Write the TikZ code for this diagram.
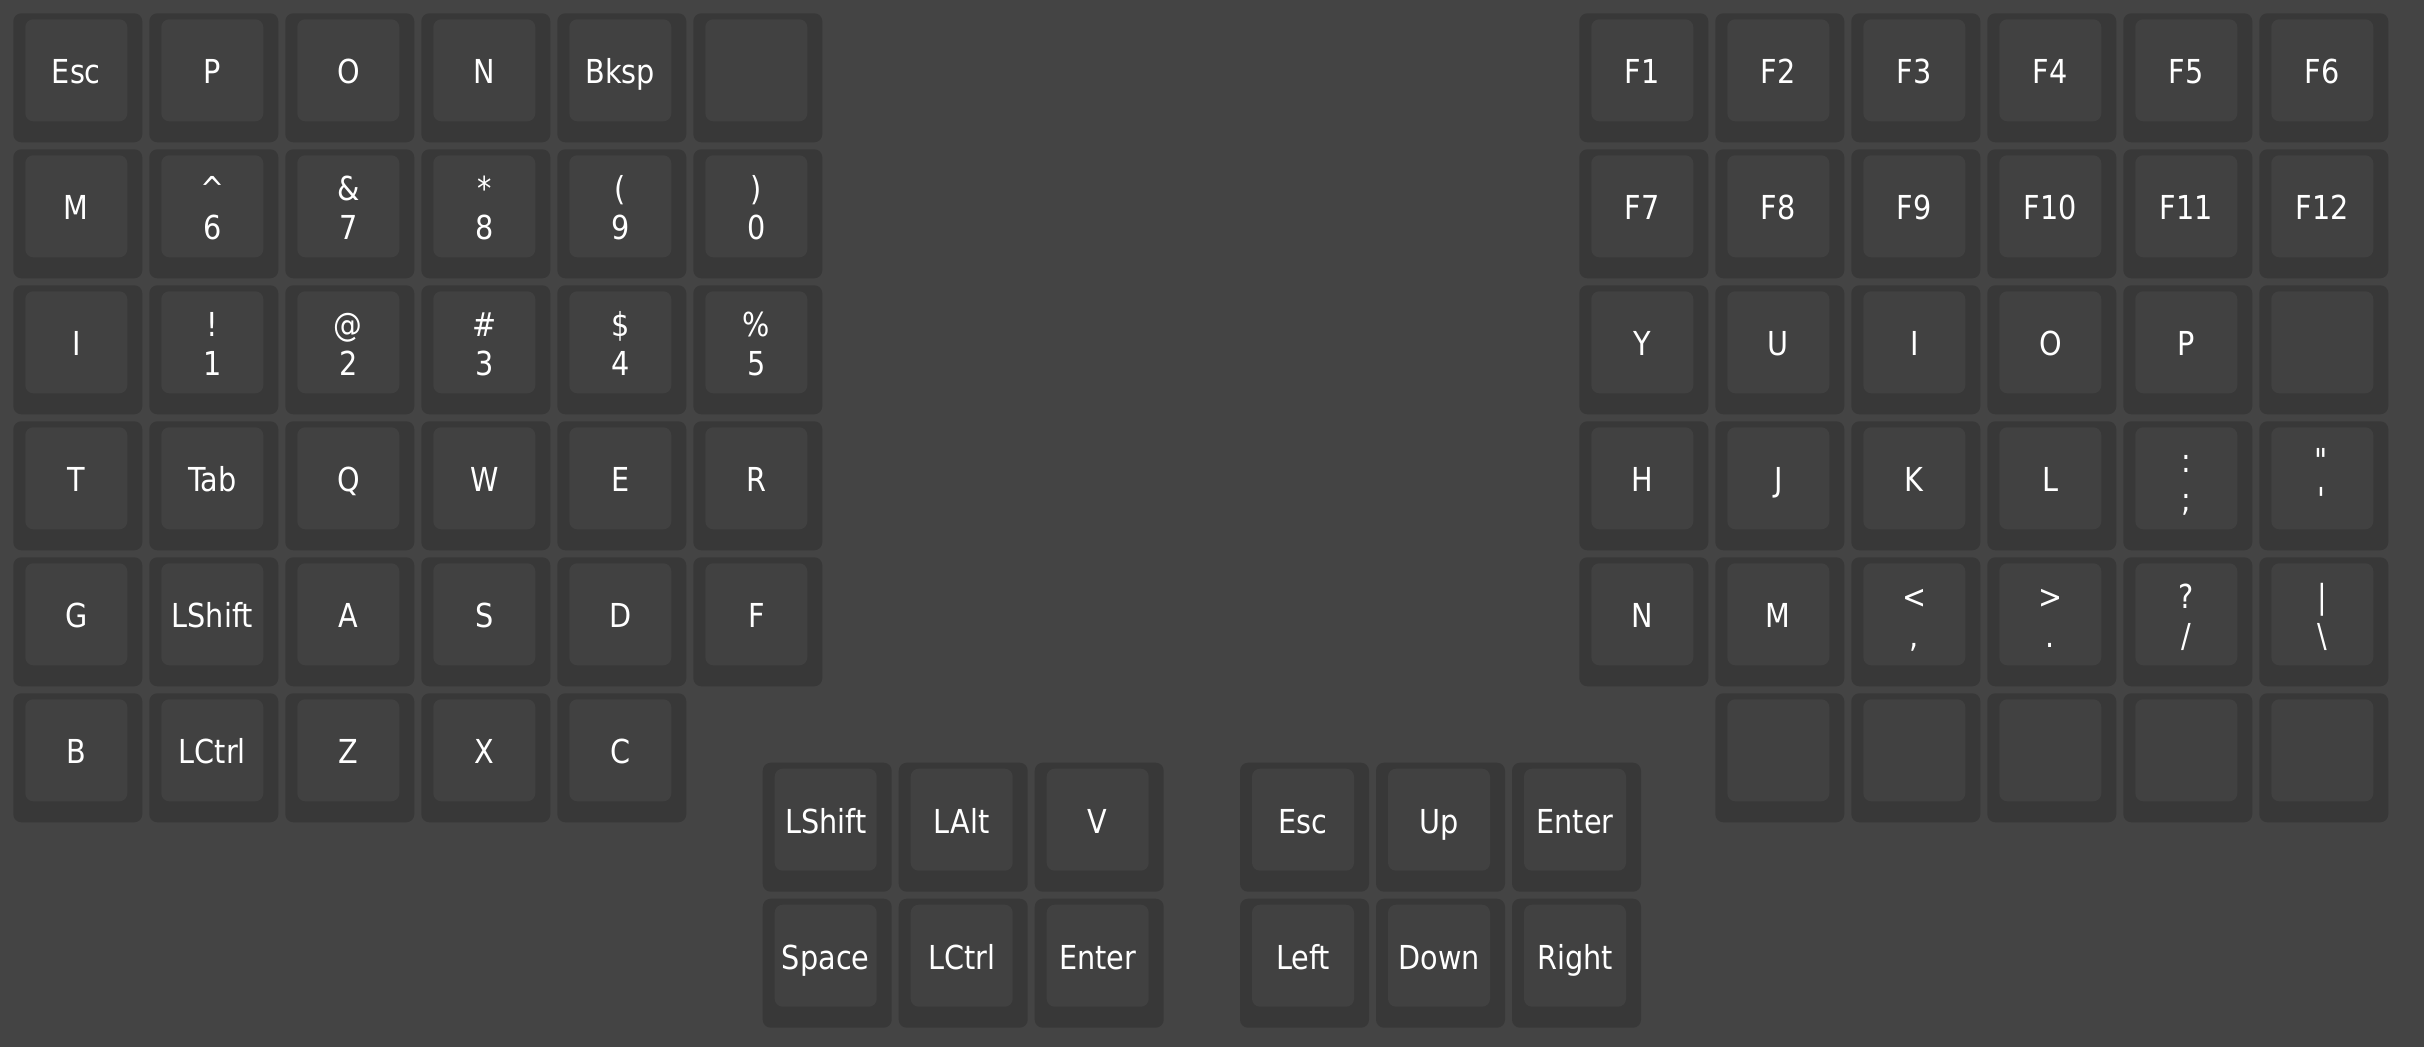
\documentclass[tikz,border=0pt]{standalone}
\usepackage{fontspec}
\setmainfont{DejaVu Sans}[FakeStretch=0.87]
\definecolor{bg}{RGB}{68,68,68}
\definecolor{keyout}{RGB}{56,56,56}
\definecolor{keycap}{RGB}{65,65,65}
\tikzset{
  keybase/.style={fill=keyout, rounded corners=4pt, minimum width=64.5pt, minimum height=64.5pt, inner sep=0pt, draw=none},
  keytop/.style={fill=keycap, rounded corners=4pt, minimum width=51pt, minimum height=51pt, inner sep=0pt, draw=none},
  legend/.style={text=white, font=\fontsize{16.5}{18}\selectfont, inner sep=0pt, anchor=base},
}
% #1 name, #2 left x, #3 top y (px), #4 label
\newcommand\kbkey[4]{%
  \node[keybase] (#1) at (#2+64.5,#3+64.5) {};
  \node[keytop] (#1t) at (#2+63,#3+57) {};
  \node[legend] (#1l) at (#2+63,#3+70.5) {#4};
}
% two-line legend: #4 top, #5 bottom
\newcommand\kbkeyii[5]{%
  \node[keybase] (#1) at (#2+64.5,#3+64.5) {};
  \node[keytop] (#1t) at (#2+63,#3+57) {};
  \node[legend] (#1a) at (#2+63,#3+51) {#4};
  \node[legend] (#1b) at (#2+63,#3+90.5) {#5};
}
\begin{document}
\begin{tikzpicture}[x=0.5pt,y=-0.5pt]
\path[use as bounding box, fill=bg] (0,0) rectangle (2424,1047);
% ---------- left half ----------
\def\ca{13.3}\def\cb{149.3}\def\cc{285.3}\def\cd{421.3}\def\ce{557.3}\def\cf{693.3}
\def\ra{13.3}\def\rb{149.3}\def\rc{285.3}\def\rd{421.3}\def\re{557.3}\def\rf{693.3}
\kbkey{L00}{\ca}{\ra}{Esc}
\kbkey{L01}{\cb}{\ra}{P}
\kbkey{L02}{\cc}{\ra}{O}
\kbkey{L03}{\cd}{\ra}{N}
\kbkey{L04}{\ce}{\ra}{Bksp}
\kbkey{L05}{\cf}{\ra}{}
\kbkey{L10}{\ca}{\rb}{M}
\kbkeyii{L11}{\cb}{\rb}{\textasciicircum}{6}
\kbkeyii{L12}{\cc}{\rb}{\&}{7}
\kbkeyii{L13}{\cd}{\rb}{*}{8}
\kbkeyii{L14}{\ce}{\rb}{(}{9}
\kbkeyii{L15}{\cf}{\rb}{)}{0}
\kbkey{L20}{\ca}{\rc}{I}
\kbkeyii{L21}{\cb}{\rc}{!}{1}
\kbkeyii{L22}{\cc}{\rc}{@}{2}
\kbkeyii{L23}{\cd}{\rc}{\#}{3}
\kbkeyii{L24}{\ce}{\rc}{\$}{4}
\kbkeyii{L25}{\cf}{\rc}{\%}{5}
\kbkey{L30}{\ca}{\rd}{T}
\kbkey{L31}{\cb}{\rd}{Tab}
\kbkey{L32}{\cc}{\rd}{Q}
\kbkey{L33}{\cd}{\rd}{W}
\kbkey{L34}{\ce}{\rd}{E}
\kbkey{L35}{\cf}{\rd}{R}
\kbkey{L40}{\ca}{\re}{G}
\kbkey{L41}{\cb}{\re}{LShift}
\kbkey{L42}{\cc}{\re}{A}
\kbkey{L43}{\cd}{\re}{S}
\kbkey{L44}{\ce}{\re}{D}
\kbkey{L45}{\cf}{\re}{F}
\kbkey{L50}{\ca}{\rf}{B}
\kbkey{L51}{\cb}{\rf}{LCtrl}
\kbkey{L52}{\cc}{\rf}{Z}
\kbkey{L53}{\cd}{\rf}{X}
\kbkey{L54}{\ce}{\rf}{C}
% ---------- right half ----------
\def\da{1579.3}\def\db{1715.3}\def\dc{1851.3}\def\dd{1987.3}\def\de{2123.3}\def\df{2259.3}
\kbkey{R00}{\da}{\ra}{F1}
\kbkey{R01}{\db}{\ra}{F2}
\kbkey{R02}{\dc}{\ra}{F3}
\kbkey{R03}{\dd}{\ra}{F4}
\kbkey{R04}{\de}{\ra}{F5}
\kbkey{R05}{\df}{\ra}{F6}
\kbkey{R10}{\da}{\rb}{F7}
\kbkey{R11}{\db}{\rb}{F8}
\kbkey{R12}{\dc}{\rb}{F9}
\kbkey{R13}{\dd}{\rb}{F10}
\kbkey{R14}{\de}{\rb}{F11}
\kbkey{R15}{\df}{\rb}{F12}
\kbkey{R20}{\da}{\rc}{Y}
\kbkey{R21}{\db}{\rc}{U}
\kbkey{R22}{\dc}{\rc}{I}
\kbkey{R23}{\dd}{\rc}{O}
\kbkey{R24}{\de}{\rc}{P}
\kbkey{R25}{\df}{\rc}{}
\kbkey{R30}{\da}{\rd}{H}
\kbkey{R31}{\db}{\rd}{J}
\kbkey{R32}{\dc}{\rd}{K}
\kbkey{R33}{\dd}{\rd}{L}
\kbkeyii{R34}{\de}{\rd}{:}{;}
\kbkeyii{R35}{\df}{\rd}{\textquotedbl}{\textquotesingle}
\kbkey{R40}{\da}{\re}{N}
\kbkey{R41}{\db}{\re}{M}
\kbkeyii{R42}{\dc}{\re}{<}{,}
\kbkeyii{R43}{\dd}{\re}{>}{.}
\kbkeyii{R44}{\de}{\re}{?}{/}
\kbkeyii{R45}{\df}{\re}{|}{\textbackslash}
\kbkey{R51}{\db}{\rf}{}
\kbkey{R52}{\dc}{\rf}{}
\kbkey{R53}{\dd}{\rf}{}
\kbkey{R54}{\de}{\rf}{}
\kbkey{R55}{\df}{\rf}{}
% ---------- thumb clusters ----------
\def\ta{762.7}\def\tb{898.7}
\kbkey{TL00}{762.7}{\ta}{LShift}
\kbkey{TL01}{898.7}{\ta}{LAlt}
\kbkey{TL02}{1034.7}{\ta}{V}
\kbkey{TL10}{762.7}{\tb}{Space}
\kbkey{TL11}{898.7}{\tb}{LCtrl}
\kbkey{TL12}{1034.7}{\tb}{Enter}
\kbkey{TR00}{1240}{\ta}{Esc}
\kbkey{TR01}{1376}{\ta}{Up}
\kbkey{TR02}{1512}{\ta}{Enter}
\kbkey{TR10}{1240}{\tb}{Left}
\kbkey{TR11}{1376}{\tb}{Down}
\kbkey{TR12}{1512}{\tb}{Right}
\end{tikzpicture}
\end{document}
